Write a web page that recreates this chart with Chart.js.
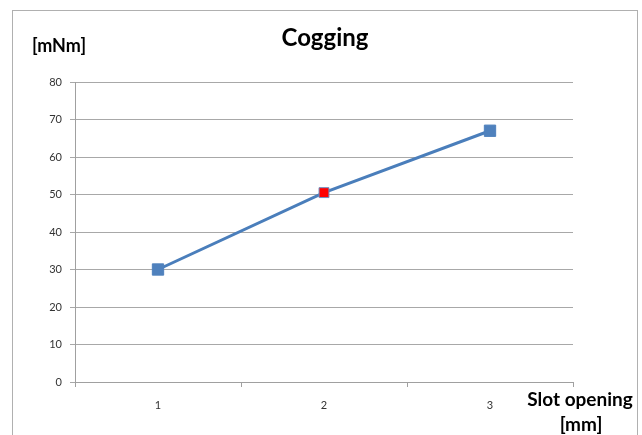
<!DOCTYPE html>
<html>
<head>
<meta charset="utf-8">
<script src="https://cdn.jsdelivr.net/npm/chart.js@4"></script>
<style>
  html, body { margin: 0; padding: 0; background: #fff; }
  #wrap { width: 642px; height: 435px; }
</style>
</head>
<body>
<div id="wrap"><canvas id="chart" width="642" height="435"></canvas></div>
<script>
// Chart data
const categories = ['1', '2', '3'];
const coggingValues = [30, 50.5, 67];
const pointColors = ['#4f81bd', '#ff0000', '#4f81bd'];
const pointBorders = ['#4f81bd', '#6f8fc0', '#4f81bd'];
const pointRadii = [8, 7, 8];
const yMin = 0;
const yMax = 80;
const yStep = 10;

const titleText = 'Cogging';
const yAxisTitle = '[mNm]';
const xAxisTitle = ['Slot opening', '[mm]'];

const FONT = 'Lato, "Open Sans", sans-serif';

// Frame, title and axis captions
const decorations = {
    id: 'decorations',
    beforeDraw(chart) {
        const ctx = chart.ctx;
        ctx.save();
        ctx.fillStyle = '#fff';
        ctx.fillRect(0, 0, chart.width, chart.height);
        ctx.strokeStyle = '#b0b0b0';
        ctx.lineWidth = 1;
        ctx.strokeRect(12.5, 10.5, 625, 440);
        ctx.restore();
    },
    afterDraw(chart) {
        const ctx = chart.ctx;
        ctx.save();
        ctx.fillStyle = '#000';
        ctx.textBaseline = 'middle';
        ctx.textAlign = 'center';
        ctx.font = 'bold 24px ' + FONT;
        ctx.fillText(titleText, 325, 38);
        ctx.textAlign = 'left';
        ctx.font = 'bold 18px ' + FONT;
        ctx.fillText(yAxisTitle, 32, 46);
        ctx.textAlign = 'center';
        ctx.font = 'bold 19px ' + FONT;
        ctx.fillText(xAxisTitle[0], 580, 400);
        ctx.fillText(xAxisTitle[1], 581, 425);
        ctx.restore();
    }
};

const ctx = document.getElementById('chart').getContext('2d');
new Chart(ctx, {
    type: 'line',
    data: {
        labels: categories,
        datasets: [{
            label: 'Cogging',
            data: coggingValues,
            borderColor: '#4a7ebb',
            borderWidth: 3,
            tension: 0,
            pointStyle: 'rect',
            pointRadius: pointRadii,
            pointHoverRadius: pointRadii,
            pointBackgroundColor: pointColors,
            pointBorderColor: pointBorders,
            pointBorderWidth: 1
        }]
    },
    options: {
        responsive: false,
        animation: false,
        layout: { padding: { top: 82, right: 69, left: 0, bottom: 0 } },
        plugins: {
            legend: { display: false },
            tooltip: { enabled: false }
        },
        scales: {
            x: {
                type: 'category',
                offset: true,
                afterFit(scale) { scale.height = 53; },
                grid: {
                    offset: true,
                    drawOnChartArea: false,
                    color: '#a0a0a0',
                    tickLength: 5
                },
                border: { color: '#a0a0a0', width: 1 },
                ticks: {
                    color: '#333',
                    font: { family: FONT, size: 11 },
                    padding: 12
                }
            },
            y: {
                min: yMin,
                max: yMax,
                afterFit(scale) { scale.width = 75; },
                grid: {
                    color: '#a8a8a8',
                    tickLength: 5
                },
                border: { color: '#a0a0a0', width: 1 },
                ticks: {
                    stepSize: yStep,
                    color: '#333',
                    font: { family: FONT, size: 11 },
                    padding: 8
                }
            }
        }
    },
    plugins: [decorations]
});
</script>
</body>
</html>
